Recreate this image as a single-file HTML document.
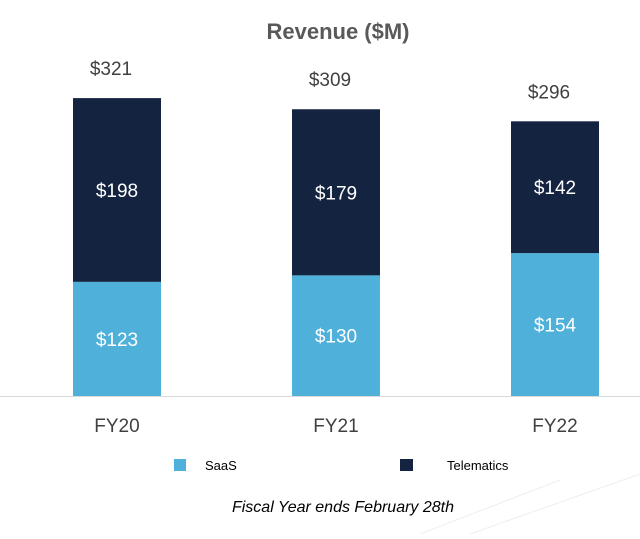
<!DOCTYPE html>
<html><head><meta charset="utf-8"><style>
body{margin:0;background:#fff;width:640px;height:534px;overflow:hidden;font-family:"Liberation Sans",sans-serif}
</style></head><body>
<svg width="640" height="534" xmlns="http://www.w3.org/2000/svg">
<text x="338" y="39" text-anchor="middle" font-size="22" font-weight="bold" fill="#595959">Revenue ($M)</text>
<line x1="0" y1="396.5" x2="640" y2="396.5" stroke="#d9d9d9" stroke-width="1"/>
<line x1="420" y1="534" x2="560" y2="480" stroke="#eeeeee"/>
<line x1="470" y1="534" x2="640" y2="474" stroke="#eeeeee"/>
<g id="bars"></g>
<rect x="174" y="459" width="12" height="12" fill="#4fb0da"/>
<text x="205" y="470" font-size="13" fill="#000">SaaS</text>
<rect x="400" y="459" width="13" height="12" fill="#14233f"/>
<text x="447" y="470" font-size="13" fill="#000">Telematics</text>
<text x="343" y="512" text-anchor="middle" font-size="16" font-style="italic" fill="#000">Fiscal Year ends February 28th</text>
</svg>
<script>
const categories=["FY20","FY21","FY22"];
const saas=[123,130,154];
const telematics=[198,179,142];
const base=396, scale=0.928, barW=88;
const xs=i=>73+i*219;
const y=v=>base-v*scale;
const g=document.getElementById('bars');
const NS="http://www.w3.org/2000/svg";
function mk(tag,attrs,txt){const e=document.createElementNS(NS,tag);for(const k in attrs)e.setAttribute(k,attrs[k]);if(txt!==undefined)e.textContent=txt;g.appendChild(e);return e;}
categories.forEach((c,i)=>{
 const x=xs(i), s=saas[i], t=telematics[i], tot=s+t;
 const r1=mk('rect',{x:x,y:y(s),width:barW,height:base-y(s),fill:'#4fb0da'});
 
 
 const r2=mk('rect',{x:x,y:y(tot),width:barW,height:y(s)-y(tot),fill:'#14233f'});
 
 
 const l1=mk('text',{x:x+barW/2,y:(y(s)+base)/2+7,'text-anchor':'middle','font-size':19,fill:'#fff'},'$'+s);
 
 
 const l2=mk('text',{x:x+barW/2,y:(y(tot)+y(s))/2+7,'text-anchor':'middle','font-size':19,fill:'#fff'},'$'+t);
 
 
 const l3=mk('text',{x:x+barW/2-6,y:y(tot)-23,'text-anchor':'middle','font-size':19,fill:'#404040'},'$'+tot);
 
 
 const l4=mk('text',{x:x+barW/2,y:432,'text-anchor':'middle','font-size':19,fill:'#404040'},c);
 
 
});
</script>
</body></html>
